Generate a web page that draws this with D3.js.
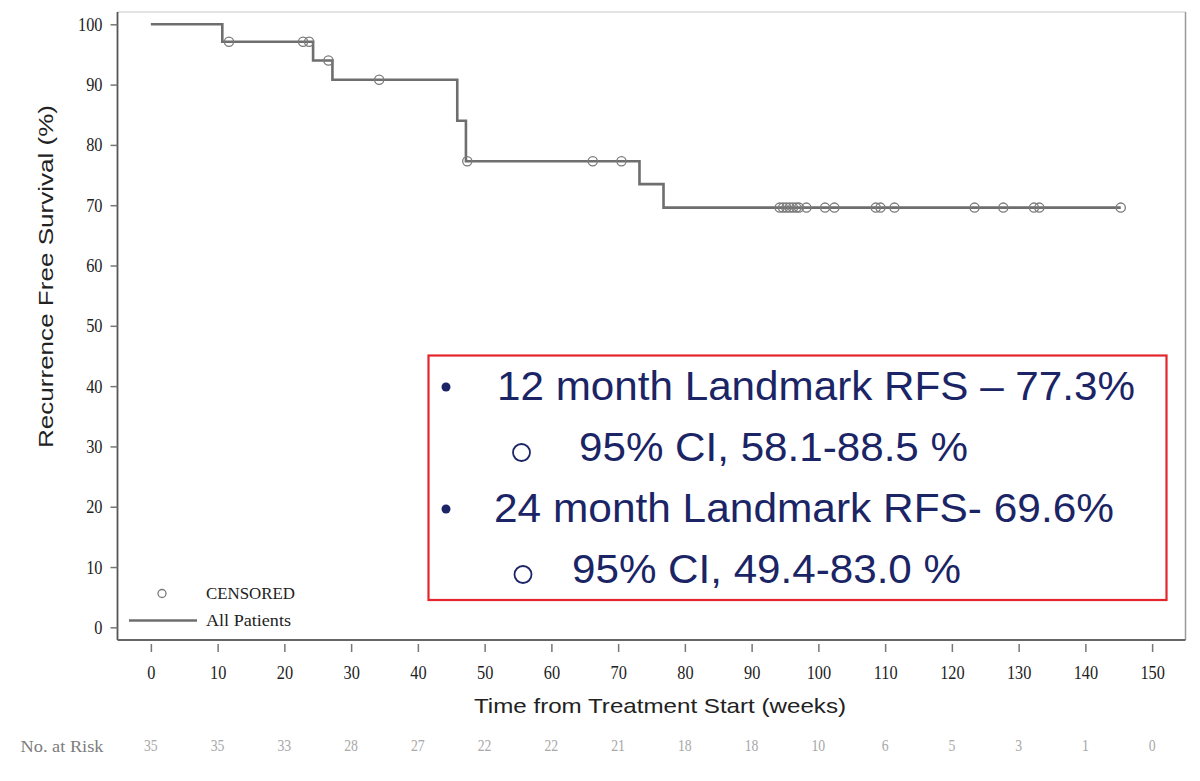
<!DOCTYPE html>
<html>
<head>
<meta charset="utf-8">
<script src="https://cdn.jsdelivr.net/npm/d3@7"></script>
<style>
  body { margin: 0; background: #fff; }
  .tick text { font-family: "Liberation Serif", serif; font-size: 19px; fill: #222; }
  .aTitle { font-family: "Liberation Sans", Arial, sans-serif; font-size: 21px; fill: #222; }
  .boxText { font-family: "Liberation Sans", Arial, sans-serif; font-size: 41px; fill: #1b2566; }
  .legText { font-family: "Liberation Serif", serif; font-size: 17px; fill: #222; }
  .riskText { font-family: "Liberation Serif", serif; font-size: 16px; }
</style>
</head>
<body>
<div id="km"></div>
<script>
// step function of the curve (weeks, %)
var stepTimes = [0, 10.7, 24.3, 27.2, 45.9, 47.2, 73.2, 76.8];
var stepSurv = [100, 97.1, 94.0, 90.8, 84.0, 77.3, 73.5, 69.6];
var lastTime = 145.3;

// censored patients (weeks)
var censorTimes = [11.7, 22.8, 23.7, 26.6, 34.2, 47.4, 66.2, 70.5,
    94.2, 94.7, 95.2, 95.7, 96.2, 96.7, 97.1, 98.2,
    101.0, 102.4, 108.6, 109.3, 111.4, 123.4, 127.7, 132.3, 133.1, 145.3];

// number at risk row
var riskTimes = [0, 10, 20, 30, 40, 50, 60, 70, 80, 90, 100, 110, 120, 130, 140, 150];
var atRisk = [35, 35, 33, 28, 27, 22, 22, 21, 18, 18, 10, 6, 5, 3, 1, 0];

var xTicks = d3.range(0, 151, 10);
var yTicks = d3.range(0, 101, 10);

// landmark box text
var boxLines = [
    {text: "12 month Landmark RFS \u2013 77.3%", level: 1},
    {text: "95% CI, 58.1-88.5 %", level: 2},
    {text: "24 month Landmark RFS- 69.6%", level: 1},
    {text: "95% CI, 49.4-83.0 %", level: 2}
];

var svgWidth = 1200;
var svgHeight = 781;

var frame = {left: 117.5, right: 1185.5, top: 12, bottom: 640};

var svg = d3.select("#km")
    .append("svg")
    .attr("width", svgWidth)
    .attr("height", svgHeight);

var xScale = d3.scaleLinear()
    .domain([-5, 155])
    .range([frame.left, frame.right]);

var yScale = d3.scaleLinear()
    .domain([-2.1, 102.04])
    .range([frame.bottom, frame.top]);

// frame
svg.append("line")
    .attr("x1", frame.left).attr("x2", frame.right)
    .attr("y1", frame.top).attr("y2", frame.top)
    .attr("stroke", "#c8c8c8").attr("stroke-width", 1.2);
svg.append("line")
    .attr("x1", frame.right).attr("x2", frame.right)
    .attr("y1", frame.top).attr("y2", frame.bottom)
    .attr("stroke", "#9a9a9a").attr("stroke-width", 1.5);
svg.append("line")
    .attr("x1", frame.left).attr("x2", frame.left)
    .attr("y1", frame.top).attr("y2", frame.bottom)
    .attr("stroke", "#555").attr("stroke-width", 1.8);
svg.append("line")
    .attr("x1", frame.left).attr("x2", frame.right)
    .attr("y1", frame.bottom).attr("y2", frame.bottom)
    .attr("stroke", "#666").attr("stroke-width", 1.8);

// axes
var bottomAxis = d3.axisBottom(xScale).tickValues(xTicks).tickSize(8).tickPadding(14);
var xAxisG = svg.append("g")
    .attr("transform", `translate(0, ${frame.bottom + 4})`)
    .call(bottomAxis);
xAxisG.select(".domain").remove();
xAxisG.selectAll(".tick line").attr("stroke", "#777").attr("stroke-width", 1.5);
xAxisG.selectAll(".tick text").attr("transform", "scale(0.86,1)");

var leftAxis = d3.axisLeft(yScale).tickValues(yTicks).tickSize(7).tickPadding(8);
var yAxisG = svg.append("g")
    .attr("transform", `translate(${frame.left}, 0)`)
    .call(leftAxis);
yAxisG.select(".domain").remove();
yAxisG.selectAll(".tick line").attr("stroke", "#777").attr("stroke-width", 1.5);
yAxisG.selectAll(".tick text")
    .attr("x", -17.5)
    .attr("transform", "scale(0.86,1)");

// axis titles
svg.append("text")
    .attr("class", "aTitle")
    .attr("x", 474)
    .attr("y", 713)
    .attr("textLength", 372)
    .attr("lengthAdjust", "spacingAndGlyphs")
    .text("Time from Treatment Start (weeks)");

svg.append("text")
    .attr("class", "aTitle")
    .attr("transform", "translate(53, 448) rotate(-90)")
    .attr("textLength", 343)
    .attr("lengthAdjust", "spacingAndGlyphs")
    .text("Recurrence Free Survival (%)");

// survival curve
var curvePts = stepTimes.map((t, i) => [t, stepSurv[i]]);
curvePts.push([lastTime, stepSurv[stepSurv.length - 1]]);

var kmLine = d3.line()
    .x(d => xScale(d[0]))
    .y(d => yScale(d[1]))
    .curve(d3.curveStepAfter);

svg.append("path")
    .datum(curvePts)
    .attr("d", kmLine)
    .attr("fill", "none")
    .attr("stroke", "#6e6e6e")
    .attr("stroke-width", 2.6);

// survival value of the curve at time t
function survAt(t) {
    var i = d3.bisectRight(stepTimes, t) - 1;
    return stepSurv[Math.max(i, 0)];
}

svg.selectAll(".censor")
    .data(censorTimes)
    .enter()
    .append("circle")
    .attr("class", "censor")
    .attr("cx", d => xScale(d))
    .attr("cy", d => yScale(survAt(d)))
    .attr("r", 4.6)
    .attr("fill", "none")
    .attr("stroke", "#7a7a7a")
    .attr("stroke-width", 1.3);

// legend
svg.append("circle")
    .attr("cx", 162).attr("cy", 593.5).attr("r", 4)
    .attr("fill", "none").attr("stroke", "#7a7a7a").attr("stroke-width", 1.3);
svg.append("text")
    .attr("class", "legText")
    .attr("x", 206).attr("y", 599)
    .attr("textLength", 89).attr("lengthAdjust", "spacingAndGlyphs")
    .text("CENSORED");
svg.append("line")
    .attr("x1", 129).attr("x2", 197)
    .attr("y1", 620.5).attr("y2", 620.5)
    .attr("stroke", "#6e6e6e").attr("stroke-width", 2.4);
svg.append("text")
    .attr("class", "legText")
    .attr("x", 206).attr("y", 626)
    .attr("textLength", 85).attr("lengthAdjust", "spacingAndGlyphs")
    .text("All Patients");

// number at risk
svg.append("text")
    .attr("class", "riskText")
    .attr("x", 20.5).attr("y", 751.5)
    .attr("fill", "#7c7c7c")
    .attr("textLength", 83).attr("lengthAdjust", "spacingAndGlyphs")
    .text("No. at Risk");

svg.selectAll(".risk")
    .data(atRisk)
    .enter()
    .append("text")
    .attr("class", "riskText")
    .attr("x", (d, i) => xScale(riskTimes[i]) / 0.86)
    .attr("y", 751.5)
    .attr("transform", "scale(0.86,1)")
    .attr("text-anchor", "middle")
    .attr("fill", "#a8a8a8")
    .text(d => d);

// landmark box
var box = {x: 428.5, y: 355.5, w: 738, h: 244.5};
svg.append("rect")
    .attr("x", box.x).attr("y", box.y)
    .attr("width", box.w).attr("height", box.h)
    .attr("fill", "none")
    .attr("stroke", "#e3262c")
    .attr("stroke-width", 2.2);

var lineBase = [400, 461, 522, 583];
var lineX = [497, 579, 494, 572];
var lineLen = [638, 389, 620, 389];
var markX = [446, 521.5, 446, 523];

boxLines.forEach(function(l, i) {
    if (l.level === 1) {
        svg.append("circle")
            .attr("cx", markX[i]).attr("cy", lineBase[i] - 13)
            .attr("r", 4.5)
            .attr("fill", "#1b2566");
    } else {
        svg.append("circle")
            .attr("cx", markX[i]).attr("cy", lineBase[i] - 8.5)
            .attr("r", 8.5)
            .attr("fill", "none")
            .attr("stroke", "#1b2566")
            .attr("stroke-width", 1.8);
    }
    svg.append("text")
        .attr("class", "boxText")
        .attr("x", lineX[i])
        .attr("y", lineBase[i])
        .attr("textLength", lineLen[i])
        .attr("lengthAdjust", "spacingAndGlyphs")
        .text(l.text);
});
</script>
</body>
</html>
